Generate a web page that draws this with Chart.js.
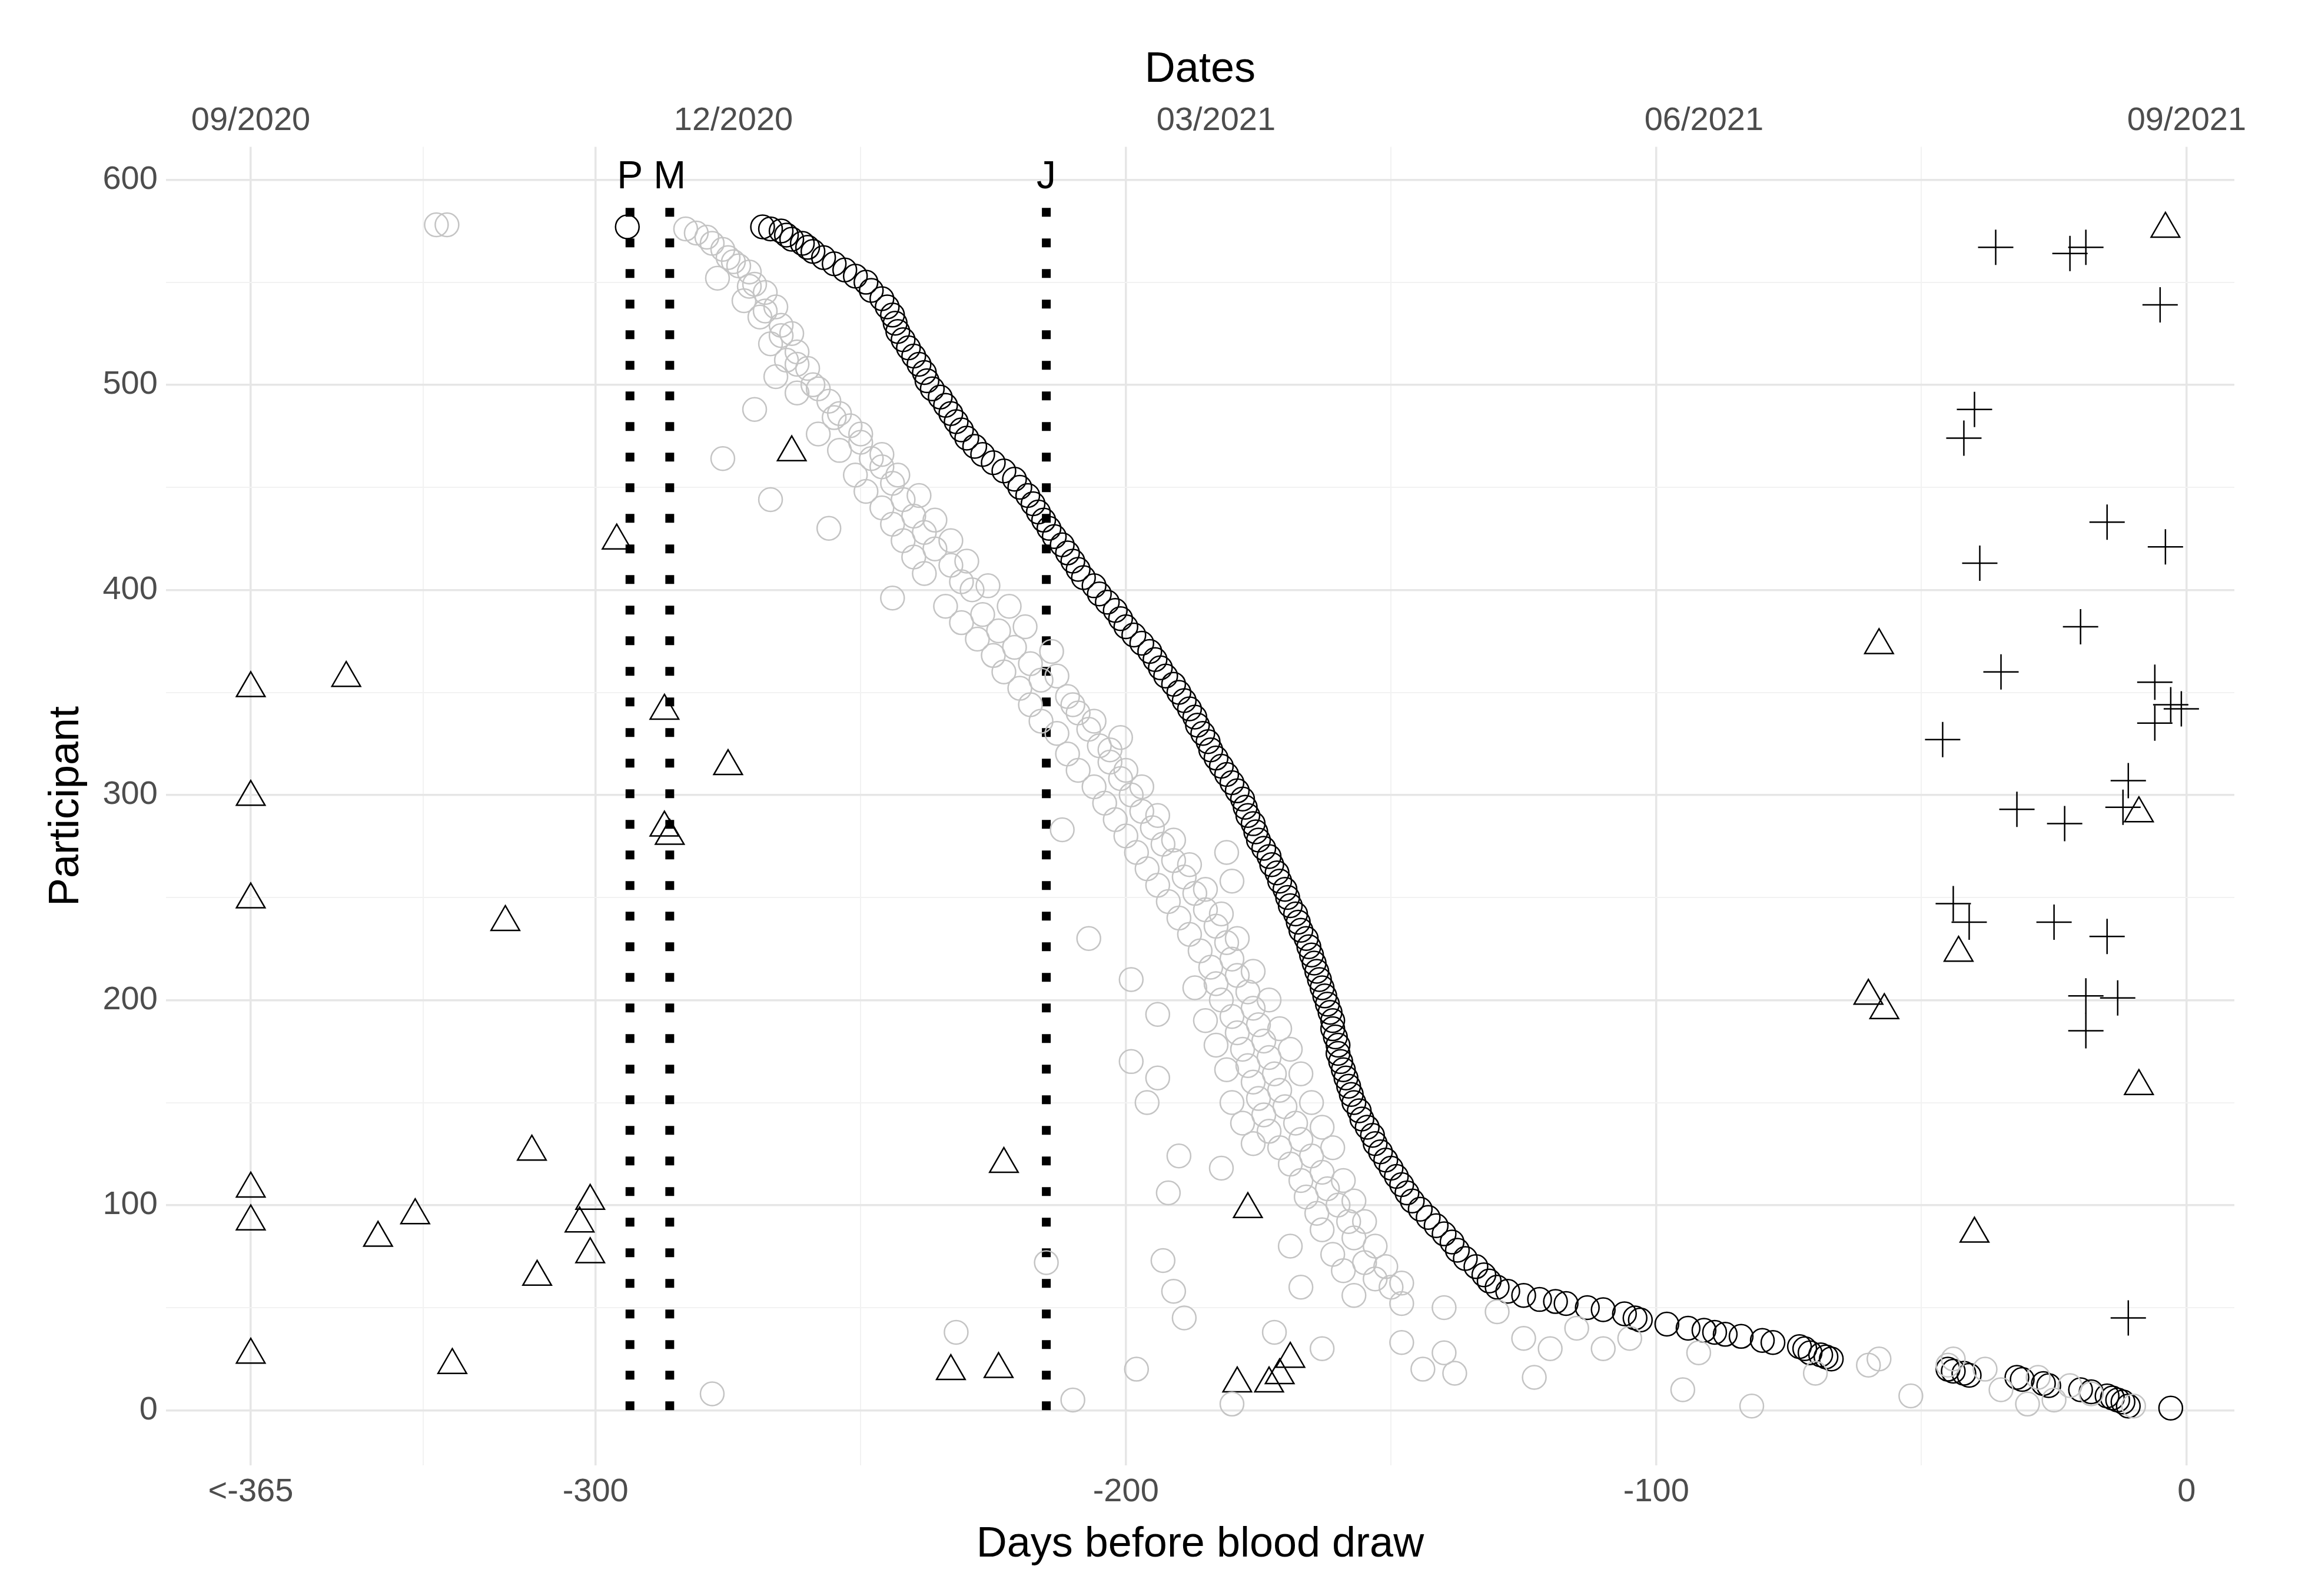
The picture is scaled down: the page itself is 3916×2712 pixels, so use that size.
<!DOCTYPE html>
<html><head><meta charset="utf-8">
<script src="https://cdn.jsdelivr.net/npm/chart.js@4/dist/chart.umd.min.js"></script>
<style>html,body{margin:0;background:#fff}#w{width:3916px;height:2712px}</style>
</head><body><div id="w"><canvas id="c"></canvas></div>
<script>
const blackPts = [[577,-268.5],[576,-267],[575,-265],[573,-264],[571,-263],[569,-261],[567,-260],[565,-259],[562,-257],[559,-255],[556,-253],[553,-251],[550,-249],[546,-248],[542,-246],[538,-245],[534,-244],[530,-243.5],[526,-243],[522,-242],[518,-241],[514,-240],[510,-239],[506,-238],[502,-237.5],[498,-236.5],[494,-235],[490,-234],[486,-233],[482,-232],[478,-231],[474,-230],[470,-228.5],[466,-227],[462,-225],[458,-223],[454,-221],[450,-220],[446,-218.5],[442,-217.5],[438,-216.5],[434,-215.5],[430,-214.5],[426,-213.5],[422,-212],[418,-211],[414,-210],[410,-209],[406,-208],[402,-206],[398,-205],[394,-203.5],[390,-202],[386,-201],[382,-200],[378,-198.5],[374,-197],[370,-195.5],[366,-194.5],[362,-193.5],[358,-192.5],[354,-191],[350,-190],[346,-189],[342,-188],[338,-187],[334,-186.5],[330,-185.5],[326,-184.5],[322,-184],[318,-183],[314,-182],[310,-181],[306,-180],[302,-179],[298,-178],[294,-177.5],[290,-177],[286,-176],[282,-175.5],[278,-175],[274,-174],[270,-173],[266,-172.5],[262,-171.5],[258,-171],[254,-170],[250,-169.5],[246,-169],[242,-168],[238,-167.5],[234,-167],[230,-166],[226,-165.5],[222,-165],[218,-164.5],[214,-164],[210,-163.5],[206,-163],[202,-162.5],[198,-162],[194,-161.5],[190,-161],[186,-161],[182,-160.5],[178,-160],[174,-160],[170,-159.5],[166,-159],[162,-158.5],[158,-158],[154,-157.5],[150,-157],[146,-156],[142,-155.5],[138,-154.5],[134,-153.5],[130,-153],[126,-152],[122,-151],[118,-150],[114,-149],[110,-148],[106,-147],[102,-146],[98,-144.5],[94,-143],[90,-141.5],[86,-140],[82,-138.5],[78,-137.5],[74,-136],[70,-134],[66,-132.5],[63,-131.5],[60,-130],[58,-128],[56,-125],[54,-122],[53,-119],[52,-117],[50,-113],[49,-110],[47,-106],[45,-104],[44,-103],[42,-98],[40,-94],[39,-91],[38,-89],[37,-87],[36,-84],[34,-80],[33,-78],[31,-73],[30,-72],[28,-71],[27,-69],[26,-68],[25,-67],[20,-45],[19,-44],[18,-42],[17,-41],[16,-32],[15,-31],[13,-27],[12,-26],[10,-20],[9,-18],[7,-15],[6,-14],[5,-13],[4,-12],[2,-11],[1,-3],[577,-294]];
const grayPts = [[-330,578],[-328,578],[-283,576],[-281,574],[-279,572],[-278,569],[-276,566],[-275,562],[-273,558],[-271,555],[-277,552],[-270,549],[-268,545],[-272,541],[-266,538],[-269,533],[-265,529],[-263,525],[-267,520],[-262,516],[-264,512],[-260,508],[-266,504],[-259,500],[-262,496],[-256,492],[-270,488],[-255,484],[-252,480],[-258,476],[-250,472],[-254,468],[-248,464],[-276,464],[-246,460],[-251,456],[-244,452],[-249,448],[-242,444],[-267,444],[-246,440],[-240,436],[-244,432],[-238,428],[-256,430],[-242,424],[-236,420],[-240,416],[-233,412],[-238,408],[-231,404],[-244,396],[-229,400],[-234,392],[-227,388],[-231,384],[-224,380],[-228,376],[-221,372],[-225,368],[-218,364],[-223,360],[-216,356],[-220,352],[-211,348],[-218,344],[-209,340],[-216,336],[-207,332],[-201,328],[-213,330],[-205,324],[-211,320],[-203,316],[-209,312],[-201,308],[-206,304],[-199,300],[-204,296],[-197,292],[-202,288],[-212,283],[-195,284],[-200,280],[-193,276],[-181,272],[-198,272],[-191,268],[-196,264],[-189,260],[-180,258],[-194,256],[-187,252],[-192,248],[-185,244],[-190,240],[-183,236],[-188,232],[-207,230],[-181,228],[-186,224],[-180,220],[-184,216],[-199,210],[-179,212],[-183,208],[-177,204],[-182,200],[-176,196],[-194,193],[-180,192],[-175,188],[-179,184],[-174,180],[-199,170],[-178,176],[-173,172],[-177,168],[-172,164],[-194,162],[-176,160],[-171,156],[-175,152],[-196,150],[-170,148],[-174,144],[-168,140],[-173,136],[-167,132],[-190,124],[-171,128],[-165,124],[-169,120],[-163,116],[-182,118],[-167,112],[-162,108],[-192,106],[-166,104],[-160,100],[-164,96],[-158,92],[-163,88],[-157,84],[-169,80],[-161,76],[-155,72],[-193,73],[-159,68],[-153,64],[-167,60],[-150,60],[-157,56],[-148,52],[-140,50],[-130,48],[-191,58],[-189,45],[-172,38],[-232,38],[-278,8],[-215,72],[-210,5],[-198,20],[-180,3],[-163,30],[-148,33],[-144,20],[-140,28],[-138,18],[-125,35],[-123,16],[-120,30],[-115,40],[-110,30],[-105,35],[-95,10],[-92,28],[-82,2],[-70,18],[-60,22],[-58,25],[-52,7],[-45,22],[-44,25],[-38,20],[-35,10],[-30,3],[-28,16],[-25,5],[-22,12],[-18,8],[-10,2],
[-274,560],[-271,548],[-268,536],[-265,524],[-262,510],[-258,498],[-254,486],[-250,476],[-246,466],[-243,456],[-239,446],[-236,434],[-233,424],[-230,414],[-226,402],[-222,392],[-219,382],[-214,370],[-213,358],[-210,344],[-206,336],[-203,322],[-200,312],[-197,304],[-194,290],[-191,278],[-188,266],[-185,254],[-182,242],[-179,230],[-176,214],[-173,200],[-171,186],[-169,176],[-167,164],[-165,150],[-163,138],[-161,128],[-159,112],[-157,102],[-155,92],[-153,80],[-151,70],[-148,62],[-187,206],[-185,190],[-183,178],[-181,166],[-180,150],[-178,140],[-176,130]];
const triPts = [[-365,352],[-365,299],[-365,249],[-365,108],[-365,92],[-365,27],[-347,357],[-341,84],[-334,95],[-327,22],[-317,238],[-312,126],[-311,65],[-303,91],[-301,102],[-301,76],[-296,424],[-287,341],[-287,284],[-286,280],[-275,314],[-263,467],[-233,19],[-224,20],[-223,120],[-177,98],[-179,13],[-173,13],[-171,17],[-169,25],[-58,373],[-60,202],[-57,195],[-43,223],[-40,86],[-9,158],[-9,291],[-4,576]];
const crossPts = [[-36,567],[-22,564],[-19,567],[-5,539],[-40,488],[-42,474],[-15,433],[-4,421],[-39,413],[-20,382],[-35,360],[-6,355],[-3,344],[-1,342],[-6,335],[-46,327],[-11,307],[-12,294],[-32,293],[-23,286],[-44,247],[-41,238],[-25,238],[-15,231],[-19,202],[-13,201],[-19,185],[-11,45]];
const vLines = [{x:-293.5,label:'P'},{x:-286,label:'M'},{x:-215,label:'J'}];
const xTicks = [-365,-300,-200,-100,0];
const xMinor = [-332.5,-250,-150,-50];
const yTicks = [0,100,200,300,400,500,600];
const yMinor = [50,150,250,350,450,550];
const dateTicks = [-365,-274,-183,-91,0];
const dateLabels = ['09/2020','12/2020','03/2021','06/2021','09/2021'];

const F = "'Liberation Sans', Arial, sans-serif";
const xy = a => a.map(p => ({x:p[0], y:p[1]}));
const datasets = [];
datasets.push({data:xy(grayPts), pointStyle:'circle', pointRadius:20, borderColor:'#c4c4c4', backgroundColor:'rgba(0,0,0,0)', borderWidth:2.5, showLine:false});
datasets.push({data:blackPts.map(p=>({x:p[1],y:p[0]})), pointStyle:'circle', pointRadius:20, borderColor:'#000', backgroundColor:'rgba(0,0,0,0)', borderWidth:2.5, showLine:false});
vLines.forEach(v => datasets.push({type:'line', data:[{x:v.x,y:0},{x:v.x,y:588}], borderColor:'#000', borderWidth:15, borderDash:[15,37], pointRadius:0, fill:false}));
datasets.push({data:xy(triPts), pointStyle:'triangle', pointRadius:28, borderColor:'#000', backgroundColor:'rgba(0,0,0,0)', borderWidth:2.5, showLine:false});
datasets.push({data:xy(crossPts), pointStyle:'cross', pointRadius:30, borderColor:'#000', borderWidth:2.5, showLine:false});

const labelPlugin = {id:'lbl', afterDatasetsDraw(ch){
  const c=ch.ctx, xs=ch.scales.x, ys=ch.scales.y;
  c.save(); c.font='66px '+F; c.fillStyle='#000'; c.textAlign='center'; c.textBaseline='middle';
  vLines.forEach(v=>c.fillText(v.label, xs.getPixelForValue(v.x), ys.getPixelForValue(601)));
  c.restore();
}};
const gridColor = ctx => (ctx.tick && ctx.tick.minor) ? '#f2f2f2' : '#e6e6e6';
new Chart(document.getElementById('c'), {
  type:'scatter',
  data:{datasets},
  options:{
    responsive:true, maintainAspectRatio:false, animation:false,
    layout:{padding:{left:66,right:120,top:72,bottom:40}},
    plugins:{legend:{display:false}, tooltip:{enabled:false}},
    scales:{
      x:{type:'linear', min:-381, max:9, position:'bottom',
        afterBuildTicks:s=>{s.ticks=xTicks.map(v=>({value:v})).concat(xMinor.map(v=>({value:v,minor:true})));},
        ticks:{font:{size:56,family:F}, color:'#4d4d4d', autoSkip:false, maxRotation:0, padding:12,
          callback:(v)=> xTicks.includes(v) ? (v===-365?'<-365':String(v)) : ''},
        grid:{color:gridColor, lineWidth:ctx=>(ctx.tick&&ctx.tick.minor)?2:3.5, drawTicks:false},
        border:{display:false},
        title:{display:true, text:'Days before blood draw', font:{size:72,family:F}, color:'#000', padding:{top:0}}},
      x2:{type:'linear', min:-381, max:9, position:'top',
        afterBuildTicks:s=>{s.ticks=dateTicks.map(v=>({value:v}));},
        ticks:{font:{size:56,family:F}, color:'#4d4d4d', autoSkip:false, maxRotation:0, padding:10,
          callback:(v)=> dateLabels[dateTicks.indexOf(v)] || ''},
        grid:{display:false, drawTicks:false}, border:{display:false},
        title:{display:true, text:'Dates', font:{size:72,family:F}, color:'#000', padding:{bottom:0}}},
      y:{min:-27, max:616,
        afterBuildTicks:s=>{s.ticks=yTicks.map(v=>({value:v})).concat(yMinor.map(v=>({value:v,minor:true})));},
        ticks:{font:{size:56,family:F}, color:'#4d4d4d', autoSkip:false, padding:14,
          callback:(v)=> yTicks.includes(v) ? String(v) : ''},
        grid:{color:gridColor, lineWidth:ctx=>(ctx.tick&&ctx.tick.minor)?2:3.5, drawTicks:false},
        border:{display:false},
        title:{display:true, text:'Participant', font:{size:72,family:F}, color:'#000'}}
    }
  },
  plugins:[labelPlugin]
});
</script></body></html>
